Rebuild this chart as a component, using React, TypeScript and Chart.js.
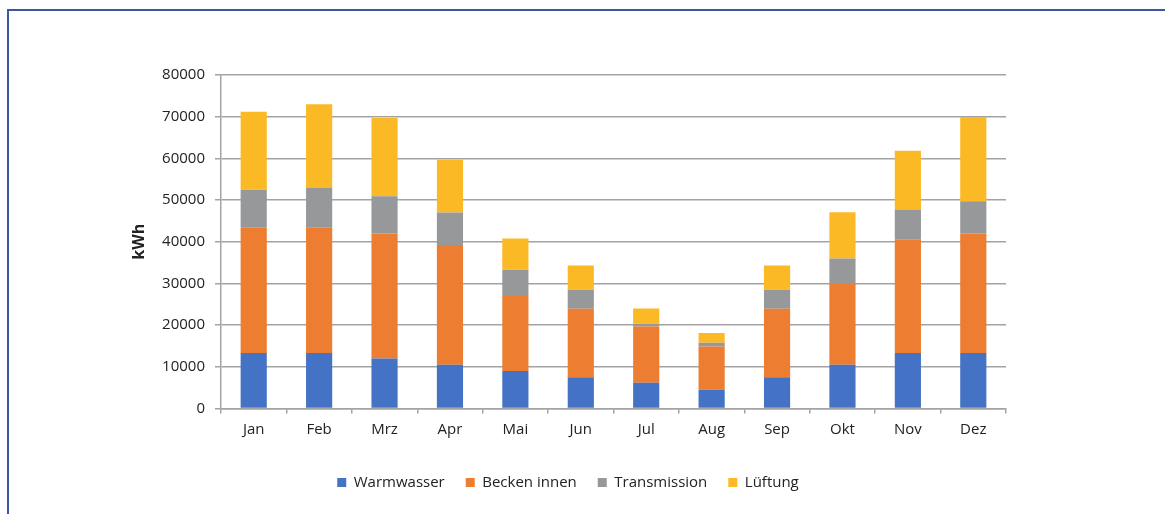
import React, { useEffect, useRef } from "react";
import { Chart, registerables } from "chart.js";

Chart.register(...registerables);

// Monthly heat demand in kWh, split by consumer
const months = ["Jan", "Feb", "Mrz", "Apr", "Mai", "Jun", "Jul", "Aug", "Sep", "Okt", "Nov", "Dez"];
const warmwasser = [13300, 13300, 12000, 10500, 9000, 7500, 6200, 4500, 7500, 10500, 13300, 13300];
const beckenInnen = [30200, 30200, 30000, 28700, 18000, 16400, 13500, 10400, 16400, 19500, 27200, 28700];
const transmission = [9000, 9500, 8900, 7800, 6300, 4600, 600, 900, 4600, 6000, 7100, 7700];
const lueftung = [18700, 20000, 18800, 12700, 7500, 5800, 3700, 2300, 5800, 11100, 14200, 20200];
const yTicks = [0, 10000, 20000, 30000, 40000, 50000, 60000, 70000, 80000];

const FONT = "'Open Sans', 'DejaVu Sans', sans-serif";
const TEXT = "#222222";
const GRID = "#a3a3a3";

export default function App() {
  const canvasRef = useRef<HTMLCanvasElement | null>(null);

  useEffect(() => {
    document.body.style.margin = "0";
    const canvas = canvasRef.current;
    if (!canvas) return;
    const chart = new Chart(canvas, {
      type: "bar",
      data: {
        labels: months,
        datasets: [
          { label: "Warmwasser", data: warmwasser, backgroundColor: "#4472c4" },
          { label: "Becken innen", data: beckenInnen, backgroundColor: "#ed7d31" },
          { label: "Transmission", data: transmission, backgroundColor: "#96989a" },
          { label: "Lüftung", data: lueftung, backgroundColor: "#fbba25" },
        ],
      },
      options: {
        responsive: false,
        animation: false,
        devicePixelRatio: 1,
        datasets: { bar: { barPercentage: 0.8, categoryPercentage: 0.5 } },
        layout: { padding: { left: 130, right: 159, top: 75, bottom: 14 } },
        plugins: {
          tooltip: { enabled: false },
          legend: {
            position: "bottom",
            labels: {
              color: TEXT,
              font: { family: FONT, size: 15 },
              boxWidth: 9,
              boxHeight: 9,
              padding: 21,
            },
          },
        },
        scales: {
          x: {
            stacked: true,
            grid: {
              drawOnChartArea: false,
              drawTicks: true,
              tickLength: 5,
              color: GRID,
              lineWidth: 1.5,
            },
            border: { color: GRID, width: 1.5 },
            ticks: { color: TEXT, font: { family: FONT, size: 15 }, padding: 7 },
            afterFit: (s: any) => {
              s.height = 45.5;
            },
          },
          y: {
            stacked: true,
            min: 0,
            max: 80000,
            afterBuildTicks: (s: any) => {
              s.ticks = yTicks.map((v) => ({ value: v }));
            },
            grid: { color: GRID, lineWidth: 1.5, tickLength: 6 },
            border: { color: GRID, width: 1.5 },
            ticks: {
              color: TEXT,
              font: { family: FONT, size: 15 },
              padding: 10,
              callback: (v: any) => String(v),
            },
            title: {
              display: true,
              text: "kWh",
              color: TEXT,
              font: { family: FONT, size: 16, weight: "bold" },
              padding: { top: 0, bottom: 0 },
            },
            afterFit: (s: any) => {
              s.width = 91;
            },
          },
        },
      },
    });
    return () => chart.destroy();
  }, []);

  return (
    <div style={{ position: "fixed", left: 0, top: 0, width: 1165, height: 514, background: "#ffffff" }}>
      <div
        style={{
          position: "absolute",
          left: 7,
          top: 9,
          right: 0,
          bottom: 0,
          borderLeft: "2px solid #3b56a3",
          borderTop: "2px solid #3b56a3",
        }}
      />
      <canvas
        ref={canvasRef}
        width={1165}
        height={514}
        style={{ position: "absolute", left: 0, top: 0, width: 1165, height: 514 }}
      />
    </div>
  );
}
